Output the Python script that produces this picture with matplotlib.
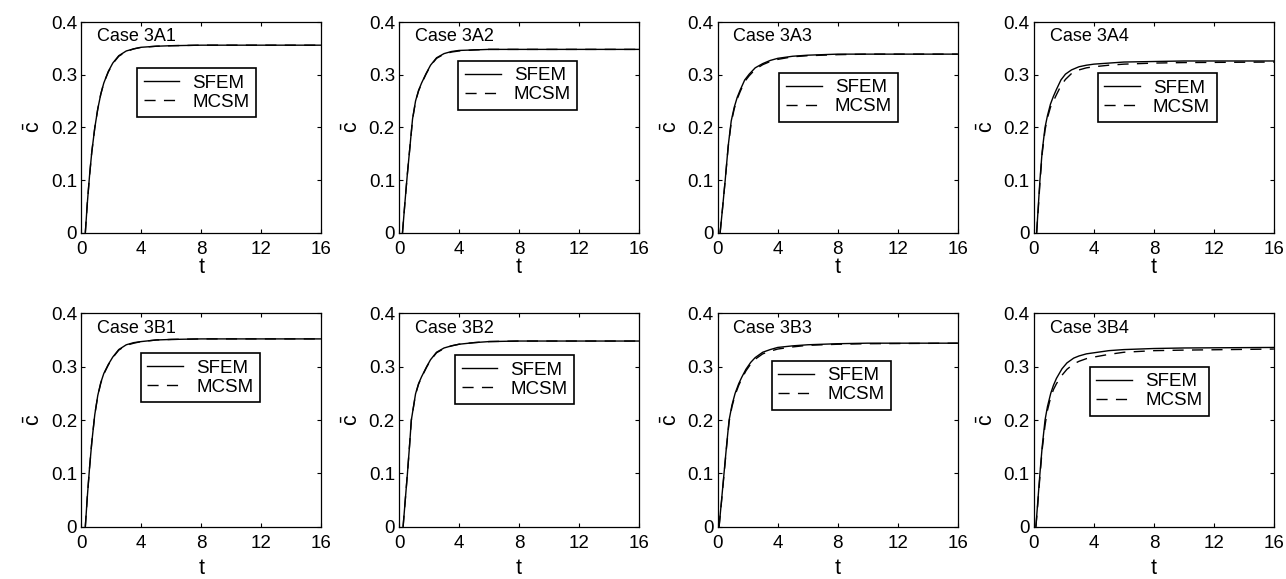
import matplotlib
matplotlib.use("Agg")
import matplotlib.pyplot as plt

plt.rcParams["font.family"] = ["Liberation Sans", "DejaVu Sans"]
plt.rcParams["mathtext.fontset"] = "custom"
plt.rcParams["mathtext.rm"] = "Liberation Sans"
plt.rcParams["mathtext.it"] = "Liberation Sans"

# Values (t, mean concentration)
cases = ["Case 3A1", "Case 3A2", "Case 3A3", "Case 3A4",
         "Case 3B1", "Case 3B2", "Case 3B3", "Case 3B4"]

t_3A1 = [0.27, 0.4, 0.55, 0.7, 0.9, 1.1, 1.3, 1.5, 1.8, 2.1, 2.5, 3, 3.5, 4, 5, 6, 8, 10, 12, 16]
sfem_3A1 = [0, .055, .108, .153, .199, .235, .263, .284, .306, .322, .336, .345, .349, .352, .354, .355, .356, .356, .356, .356]
mcsm_3A1 = [0, .055, .108, .153, .199, .235, .263, .284, .305, .321, .335, .344, .349, .352, .354, .355, .356, .356, .356, .356]

t_3A2 = [0.23, 0.4, 0.55, 0.7, 0.9, 1.1, 1.3, 1.5, 1.8, 2.1, 2.5, 3, 3.5, 4, 5, 6, 8, 10, 12, 16]
sfem_3A2 = [0, .06, .11, .155, .216, .25, .27, .284, .302, .318, .332, .340, .344, .346, .347, .348, .348, .348, .348, .348]
mcsm_3A2 = [0, .06, .11, .155, .215, .249, .269, .283, .301, .317, .331, .339, .343, .345, .347, .348, .348, .348, .348, .348]

t_3A3 = [0.16, 0.3, 0.5, 0.7, 0.9, 1.1, 1.3, 1.5, 1.8, 2.1, 2.5, 3, 3.5, 4, 5, 6, 8, 10, 12, 16]
sfem_3A3 = [0, .04, .10, .165, .212, .238, .257, .271, .29, .301, .313, .321, .327, .331, .335, .337, .339, .339, .339, .339]
mcsm_3A3 = [0, .04, .10, .163, .209, .235, .254, .268, .287, .298, .310, .319, .325, .329, .334, .336, .338, .339, .339, .339]

t_3A4 = [0.18, 0.3, 0.4, 0.55, 0.74, 0.9, 1.1, 1.3, 1.5, 1.8, 2.1, 2.5, 3, 3.5, 4, 5, 6, 8, 10, 16]
sfem_3A4 = [0, .055, .10, .155, .20, .222, .244, .259, .272, .29, .301, .309, .315, .318, .32, .322, .324, .325, .326, .326]
mcsm_3A4 = [0, .05, .095, .15, .195, .218, .238, .25, .262, .279, .291, .302, .309, .313, .315, .318, .32, .322, .323, .324]

t_3B1 = [0.27, 0.4, 0.55, 0.7, 0.9, 1.1, 1.3, 1.5, 1.8, 2.1, 2.5, 3, 3.5, 4, 5, 6, 8, 10, 12, 16]
sfem_3B1 = [0, .055, .11, .158, .21, .246, .27, .287, .304, .318, .332, .341, .345, .347, .35, .351, .352, .352, .352, .352]
mcsm_3B1 = [0, .055, .11, .158, .21, .245, .269, .286, .303, .317, .331, .340, .344, .347, .35, .351, .352, .352, .352, .352]

t_3B2 = [0.27, 0.4, 0.56, 0.7, 0.82, 1.1, 1.3, 1.5, 1.84, 2.1, 2.5, 3, 3.5, 4, 5, 6, 8, 10, 12, 16]
sfem_3B2 = [0, .045, .10, .152, .20, .249, .268, .281, .30, .313, .327, .335, .339, .342, .345, .347, .348, .348, .348, .348]
mcsm_3B2 = [0, .045, .10, .152, .20, .248, .267, .280, .299, .312, .326, .334, .339, .342, .345, .347, .348, .348, .348, .348]

t_3B3 = [0.09, 0.25, 0.42, 0.6, 0.76, 0.95, 1.16, 1.4, 1.6, 1.88, 2.2, 2.5, 3, 3.5, 4, 5, 6, 8, 10, 16]
sfem_3B3 = [0, .048, .10, .155, .20, .228, .25, .268, .28, .295, .308, .317, .327, .332, .336, .339, .341, .343, .344, .344]
mcsm_3B3 = [0, .046, .098, .152, .197, .225, .247, .265, .277, .292, .305, .314, .324, .329, .333, .337, .340, .342, .343, .344]

t_3B4 = [0.13, 0.25, 0.4, 0.55, 0.74, 0.9, 1.12, 1.3, 1.5, 1.87, 2.2, 2.65, 3, 3.5, 4, 5, 6, 8, 10, 16]
sfem_3B4 = [0, .045, .10, .15, .20, .225, .25, .265, .278, .296, .307, .316, .32, .324, .326, .33, .332, .334, .335, .336]
mcsm_3B4 = [0, .04, .095, .145, .19, .218, .243, .257, .268, .284, .295, .305, .31, .315, .318, .323, .327, .33, .331, .333]

t_all = [t_3A1, t_3A2, t_3A3, t_3A4, t_3B1, t_3B2, t_3B3, t_3B4]
sfem_all = [sfem_3A1, sfem_3A2, sfem_3A3, sfem_3A4, sfem_3B1, sfem_3B2, sfem_3B3, sfem_3B4]
mcsm_all = [mcsm_3A1, mcsm_3A2, mcsm_3A3, mcsm_3A4, mcsm_3B1, mcsm_3B2, mcsm_3B3, mcsm_3B4]

xticks = [0, 4, 8, 12, 16]
yticks = [0, 0.1, 0.2, 0.3, 0.4]
ytick_labels = ["0", "0.1", "0.2", "0.3", "0.4"]

# layout (figure fractions) and legend anchors (axes fractions)
lefts = [0.0632, 0.3103, 0.5581, 0.8040]
bottoms = [0.5981, 0.0903]
heights = [0.3639, 0.3686]
xlabel_pads = [-1, 4]
width = 0.1866
legend_pos = [(0.232, 0.782), (0.247, 0.816), (0.257, 0.759), (0.265, 0.757),
              (0.248, 0.813), (0.233, 0.805), (0.225, 0.778), (0.233, 0.750)]

fig = plt.figure(figsize=(12.86, 5.79), dpi=100)

for i in range(8):
    row, col = divmod(i, 4)
    ax = fig.add_axes([lefts[col], bottoms[row], width, heights[row]])
    ax.plot(t_all[i], sfem_all[i], color="black", linewidth=1.0, label="SFEM")
    ax.plot(t_all[i], mcsm_all[i], color="black", linewidth=1.0, dashes=(8, 6), label="MCSM")
    ax.set_xlim(0, 16)
    ax.set_ylim(0, 0.4)
    ax.set_xticks(xticks)
    ax.set_yticks(yticks)
    ax.set_yticklabels(ytick_labels)
    ax.tick_params(direction="in", top=True, right=True, length=3, width=0.8,
                   labelsize=13.5)
    ax.tick_params(axis="x", pad=6)
    ax.tick_params(axis="y", pad=3)
    for s in ax.spines.values():
        s.set_linewidth(0.9)
    ax.set_xlabel("t", fontsize=15.5, labelpad=xlabel_pads[row])
    ax.set_ylabel(r"$\bar{\mathrm{c}}$", fontsize=15.5, labelpad=4)
    ax.text(0.065, 0.93, cases[i], transform=ax.transAxes, fontsize=13,
            ha="left", va="center")
    leg = ax.legend(loc="upper left", bbox_to_anchor=legend_pos[i], fontsize=13.5,
                    fancybox=False, framealpha=1, edgecolor="black",
                    handlelength=1.9, handletextpad=0.7, borderpad=0.35,
                    labelspacing=0.1, borderaxespad=0)
    leg.get_frame().set_linewidth(1.2)

plt.savefig("out.png", dpi=100)
